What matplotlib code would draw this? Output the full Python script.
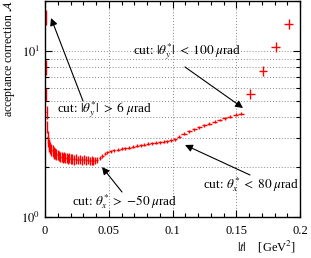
import numpy as np
import matplotlib
matplotlib.use("Agg")
import matplotlib.pyplot as plt
from matplotlib.ticker import FixedLocator, NullFormatter

plt.rcParams['font.family'] = ['Liberation Serif', 'DejaVu Serif']
plt.rcParams['mathtext.fontset'] = 'stix'

t = [0.0004, 0.0006, 0.0008, 0.001, 0.0012, 0.0015, 0.002, 0.0025, 0.003, 0.0035,
     0.004, 0.005, 0.006, 0.007, 0.008, 0.009, 0.010, 0.011, 0.012, 0.013,
     0.014, 0.015, 0.016, 0.017, 0.018, 0.019, 0.020, 0.0215, 0.023, 0.0245,
     0.026, 0.0275, 0.029, 0.0305, 0.032, 0.0335, 0.035, 0.0365, 0.038, 0.0395,
     0.041, 0.043, 0.045, 0.047, 0.049, 0.0515, 0.054, 0.057, 0.060, 0.063,
     0.066, 0.069, 0.072, 0.075, 0.078, 0.081, 0.084, 0.087, 0.090, 0.093,
     0.096, 0.099, 0.102, 0.105, 0.109, 0.113, 0.117, 0.121, 0.125, 0.129,
     0.133, 0.137, 0.141, 0.145, 0.1495, 0.154, 0.161, 0.171, 0.181, 0.191]

acc = [40, 16, 8, 5.5, 4.3, 3.5, 3.05, 2.85, 2.75, 2.68,
       2.62, 2.55, 2.50, 2.44, 2.42, 2.38, 2.36, 2.33, 2.31, 2.30,
       2.28, 2.29, 2.27, 2.26, 2.25, 2.26, 2.24, 2.25, 2.22, 2.24,
       2.21, 2.23, 2.20, 2.22, 2.19, 2.21, 2.18, 2.20, 2.18, 2.19,
       2.21, 2.26, 2.34, 2.41, 2.45, 2.49, 2.52, 2.55, 2.58, 2.60,
       2.62, 2.65, 2.68, 2.71, 2.73, 2.76, 2.78, 2.80, 2.82, 2.84,
       2.86, 2.89, 2.94, 3.05, 3.18, 3.28, 3.38, 3.47, 3.56, 3.65,
       3.75, 3.84, 3.93, 4.02, 4.12, 4.20, 5.5, 7.6, 10.6, 14.5]

# relative uncertainty of each point
rel_err = [0.10, 0.10, 0.10, 0.09, 0.09, 0.08, 0.08, 0.08, 0.08, 0.08,
           0.08, 0.08, 0.08, 0.08, 0.08, 0.08, 0.07, 0.07, 0.07, 0.07,
           0.07, 0.07, 0.07, 0.07, 0.07, 0.07, 0.07, 0.07, 0.07, 0.07,
           0.06, 0.06, 0.06, 0.06, 0.06, 0.06, 0.06, 0.06, 0.05, 0.05,
           0.04, 0.03, 0.03, 0.025, 0.025, 0.02, 0.02, 0.02, 0.02, 0.02,
           0.02, 0.02, 0.02, 0.02, 0.02, 0.02, 0.02, 0.02, 0.02, 0.02,
           0.02, 0.02, 0.02, 0.02, 0.02, 0.02, 0.02, 0.02, 0.02, 0.02,
           0.02, 0.02, 0.02, 0.02, 0.02, 0.02, 0.07, 0.07, 0.07, 0.07]

x_ticks = [0, 0.05, 0.1, 0.15, 0.2]
x_ticklabels = ['0', '0.05', '0.1', '0.15', '0.2']

t_arr = np.array(t)
acc_arr = np.array(acc)
# horizontal bars: half the spacing between neighbouring bins
d = np.diff(t_arr)
half = np.empty_like(t_arr)
half[1:-1] = np.minimum(d[:-1], d[1:]) / 2
half[0] = d[0] / 2
half[-1] = d[-1] / 2
half[-4:] = 0.0035
yerr = acc_arr * np.array(rel_err)

fig = plt.figure(figsize=(3.11, 2.58), dpi=100)
ax = fig.add_axes([45/311, 41/258, 255/311, 216/258])

ax.errorbar(t_arr, acc_arr, xerr=half, yerr=yerr, fmt='none', ecolor='#ff0000',
            elinewidth=1.0, capsize=0)

ax.set_yscale('log')
ax.set_xlim(0, 0.2)
ax.set_ylim(1, 20)
ax.set_xticks(x_ticks)
ax.set_xticklabels(x_ticklabels)
ax.xaxis.set_minor_locator(FixedLocator(np.arange(0, 0.2001, 0.01)))
ax.set_yticks([1, 10])
ax.set_yticklabels([r'$10^0$', r'$10^1$'])
ax.yaxis.set_minor_locator(FixedLocator([2, 3, 4, 5, 6, 7, 8, 9, 20]))
ax.yaxis.set_minor_formatter(NullFormatter())

ax.tick_params(which='both', direction='in', top=True, right=True, labelsize=9, width=0.8)
ax.tick_params(which='major', length=5)
ax.tick_params(which='minor', length=3)
ax.tick_params(axis='x', pad=6)

ax.grid(True, which='major', axis='x', linestyle=(0, (1, 2)), color='#888888', linewidth=0.7)
ax.grid(True, which='both', axis='y', linestyle=(0, (1, 2)), color='#888888', linewidth=0.7)
for s in ax.spines.values():
    s.set_linewidth(1.0)

fig.text(9/311, 1 - 59/258, r'acceptance correction $\mathcal{A}$', rotation=90,
         ha='center', va='center', fontsize=8.5)
fig.text(296/311, 1 - 247/258, r'$|t|$    [GeV$^2$]', ha='right', va='center', fontsize=9)

arrow = dict(arrowstyle='-|>', color='black', lw=0.8, mutation_scale=11, shrinkA=0, shrinkB=0)

def pix(px, py):
    return (px/311, 1 - py/258)

fs = 9.5
fig.text(*pix(57, 110), r'cut: $|\theta_y^{*}|\;>\;6\;\mu$rad', fontsize=fs, ha='left', va='center')
ax.annotate('', xy=pix(51, 18), xycoords='figure fraction',
            xytext=pix(83, 101), textcoords='figure fraction', arrowprops=dict(arrow))

fig.text(*pix(133, 52), r'cut: $|\theta_y^{*}|\;<\;100\;\mu$rad', fontsize=fs, ha='left', va='center')
ax.annotate('', xy=pix(243, 108), xycoords='figure fraction',
            xytext=pix(185, 67), textcoords='figure fraction', arrowprops=dict(arrow))

fig.text(*pix(72, 202), r'cut: $\theta_x^{*}\;>\;{-50}\;\mu$rad', fontsize=fs, ha='left', va='center')
ax.annotate('', xy=pix(102, 167), xycoords='figure fraction',
            xytext=pix(122, 192), textcoords='figure fraction', arrowprops=dict(arrow))

fig.text(*pix(203, 185), r'cut: $\theta_x^{*}\;<\;80\;\mu$rad', fontsize=fs, ha='left', va='center')
ax.annotate('', xy=pix(185, 145), xycoords='figure fraction',
            xytext=pix(250, 175), textcoords='figure fraction', arrowprops=dict(arrow))

fig.savefig('out.png', dpi=100)
